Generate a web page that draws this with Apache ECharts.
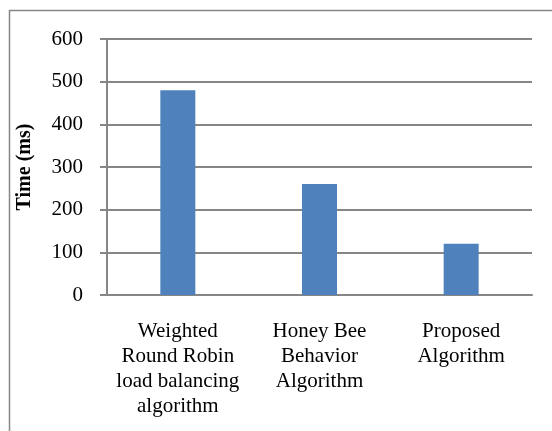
<!DOCTYPE html>
<html>
<head>
<meta charset="utf-8">
<script src="https://cdn.jsdelivr.net/npm/echarts@6/dist/echarts.min.js"></script>
<style>
  html, body { margin: 0; padding: 0; background: #fff; }
  #chart { width: 552px; height: 431px; }
</style>
</head>
<body>
<div id="chart"></div>
<script>
const categories = [
  'Weighted\nRound Robin\nload balancing\nalgorithm',
  'Honey Bee\nBehavior\nAlgorithm',
  'Proposed\nAlgorithm'
]
const times = [480, 260, 120]
const yTicks = { min: 0, max: 600, interval: 100 }

const FONT = "'Times New Roman', 'Liberation Serif', serif"
const GRAY = '#868686'

const chart = echarts.init(document.getElementById('chart'))
chart.setOption({
  animation: false,
  textStyle: { fontFamily: FONT },
  grid: { left: 107, right: 20, top: 39, bottom: 136 },
  // outer chart border (only top and left edges fall inside the window)
  graphic: [{
    type: 'rect',
    shape: { x: 9.5, y: 10.5, width: 700, height: 600 },
    style: { fill: 'none', stroke: GRAY, lineWidth: 1.5 },
    silent: true
  }],
  xAxis: {
    type: 'category',
    data: categories,
    axisLine: { lineStyle: { color: GRAY, width: 2 } },
    axisTick: { show: false },
    axisLabel: {
      interval: 0, color: '#000', fontSize: 21, lineHeight: 25,
      fontFamily: FONT, margin: 24
    }
  },
  yAxis: {
    type: 'value',
    min: yTicks.min, max: yTicks.max, interval: yTicks.interval,
    name: 'Time (ms)',
    nameLocation: 'middle',
    nameGap: 72,
    nameTextStyle: { color: '#000', fontSize: 20, fontWeight: 'bold', fontFamily: FONT },
    axisLine: { show: true, lineStyle: { color: GRAY, width: 2 } },
    axisTick: { show: true, length: 7, lineStyle: { color: GRAY, width: 2 } },
    splitLine: { lineStyle: { color: GRAY, width: 2 } },
    axisLabel: { color: '#000', fontSize: 21, fontFamily: FONT, margin: 24 }
  },
  series: [{
    type: 'bar',
    data: times,
    barWidth: 35,
    itemStyle: { color: '#4F81BD' }
  }]
})
</script>
</body>
</html>
